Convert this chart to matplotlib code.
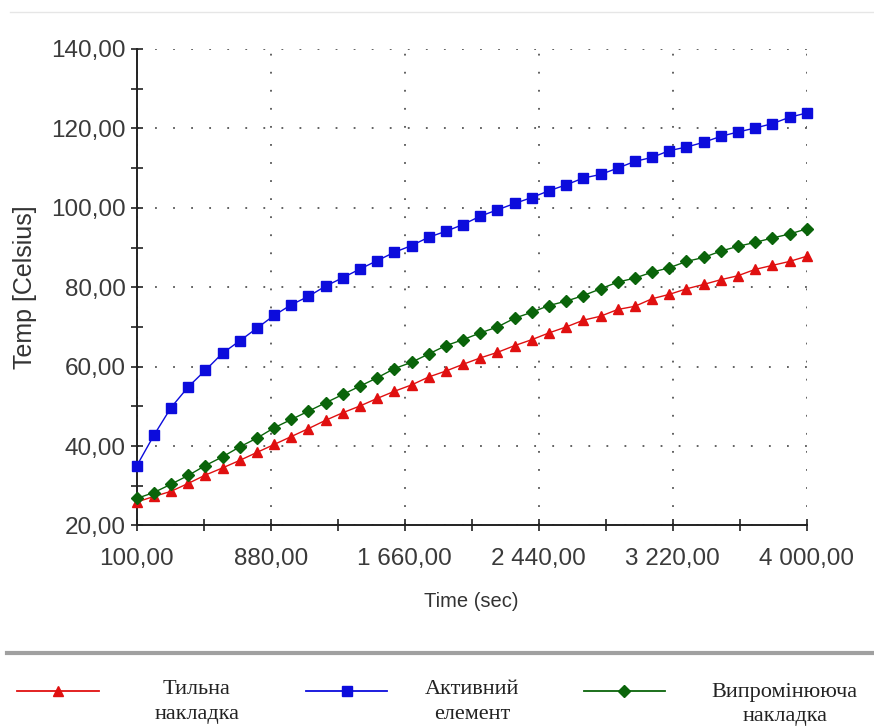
import matplotlib
matplotlib.use('Agg')
import matplotlib.pyplot as plt
import numpy as np
from matplotlib.lines import Line2D
from matplotlib.ticker import FixedLocator, FuncFormatter

# time points, sec
time_sec = np.arange(100, 4001, 100)

# Тильна накладка (red, triangles)
back_plate = [25.9, 27.3, 28.6, 30.6, 32.7, 34.5, 36.4, 38.4, 40.4, 42.4,
              44.4, 46.5, 48.4, 50.1, 52.0, 53.8, 55.4, 57.4, 58.9, 60.6,
              62.2, 63.6, 65.3, 66.8, 68.5, 70.0, 71.7, 72.7, 74.4, 75.2,
              77.1, 78.2, 79.6, 80.7, 81.9, 82.9, 84.5, 85.5, 86.5, 87.8]

# Активний елемент (blue, squares)
active_elem = [35.0, 42.7, 49.7, 54.9, 59.1, 63.4, 66.5, 69.7, 72.9, 75.6,
               77.7, 80.3, 82.4, 84.6, 86.7, 88.8, 90.5, 92.6, 94.1, 95.8,
               97.9, 99.5, 101.1, 102.6, 104.3, 105.8, 107.5, 108.4, 110.0, 111.7,
               112.7, 114.4, 115.3, 116.5, 118.0, 119.1, 120.1, 121.2, 122.8, 123.9]

# Випромінююча накладка (green, diamonds)
radiating = [26.8, 28.3, 30.4, 32.6, 35.1, 37.3, 39.8, 42.0, 44.6, 46.7,
             48.8, 50.9, 53.0, 55.1, 57.2, 59.5, 61.1, 63.2, 65.3, 66.8,
             68.5, 70.0, 72.2, 73.7, 75.4, 76.5, 77.9, 79.6, 81.3, 82.3,
             83.8, 84.9, 86.5, 87.5, 89.1, 90.3, 91.3, 92.4, 93.4, 94.7]

x_ticks = [100, 880, 1660, 2440, 3220, 4000]
y_ticks = [20, 40, 60, 80, 100, 120, 140]

labels = ['Тильна\nнакладка', 'Активний\nелемент', 'Випромінююча\nнакладка']
colors = ['#e01010', '#0c0cdc', '#0a640a']
markers = ['^', 's', 'D']

sans = ['Liberation Sans', 'DejaVu Sans']
serif = ['Liberation Serif', 'DejaVu Serif']


def num_fmt(v, pos=None):
    s = '{:,.2f}'.format(v)
    return s.replace(',', ' ').replace('.', ',')


fig = plt.figure(figsize=(8.74, 7.27), dpi=100)
ax = fig.add_axes([0.1564, 0.2772, 0.7666, 0.6554])

series = [back_plate, active_elem, radiating]
sizes = [6.5, 6.5, 6]
for vals, c, m, ms in zip(series, colors, markers, sizes):
    ax.plot(time_sec, vals, color=c, marker=m, markersize=ms, linewidth=1.0,
            markeredgecolor=c, clip_on=False, zorder=3)

ax.set_xlim(100, 4000)
ax.set_ylim(20, 140)
ax.xaxis.set_major_locator(FixedLocator(x_ticks))
ax.xaxis.set_minor_locator(FixedLocator([490, 1270, 2050, 2830, 3610]))
ax.yaxis.set_major_locator(FixedLocator(y_ticks))
ax.yaxis.set_minor_locator(FixedLocator([30, 50, 70, 90, 110, 130]))
ax.xaxis.set_major_formatter(FuncFormatter(num_fmt))
ax.yaxis.set_major_formatter(FuncFormatter(num_fmt))

for side in ['top', 'right']:
    ax.spines[side].set_visible(False)
for side in ['left', 'bottom']:
    ax.spines[side].set_linewidth(1.4)
    ax.spines[side].set_color('#222222')

ax.tick_params(which='both', direction='inout', length=8, width=1.2, color='#222222')
ax.tick_params(axis='y', pad=4)
ax.tick_params(axis='x', pad=12)
for t in ax.get_xticklabels() + ax.get_yticklabels():
    t.set_family(sans)
    t.set_fontsize(17.5)
    t.set_color('#3a3a3a')

ax.grid(True, which='major', color='#555555', linestyle=(0, (1, 9)), linewidth=1.3)
ax.set_axisbelow(True)

ax.set_xlabel('Time (sec)', family=sans, fontsize=14.5, color='#333333', labelpad=16)
ax.set_ylabel('Temp [Celsius]', family=sans, fontsize=18, color='#333333', labelpad=10)

# frame lines
fig.add_artist(Line2D([0.012, 1.0], [0.983, 0.983], color='#e6e6e6', linewidth=1))
fig.add_artist(Line2D([0.008, 1.0], [0.102, 0.102], color='#a0a0a0', linewidth=3))

# legend drawn by hand under the separator
handle_x = [(0.019, 0.113), (0.350, 0.443), (0.668, 0.761)]
text_x = [0.225, 0.540, 0.898]
text_y = [0.034, 0.034, 0.031]
for (x0, x1), tx, ty, lab, c, m in zip(handle_x, text_x, text_y, labels, colors, markers):
    fig.add_artist(Line2D([x0, x1], [0.049, 0.049], color=c, linewidth=1.3))
    fig.add_artist(Line2D([(x0 + x1) / 2], [0.049], color=c, marker=m,
                          markersize=6.5, linestyle='none'))
    fig.text(tx, ty, lab, family=serif, fontsize=16, ha='center', va='center',
             linespacing=1.4, color='#222222')

fig.savefig('out.png', dpi=100)
